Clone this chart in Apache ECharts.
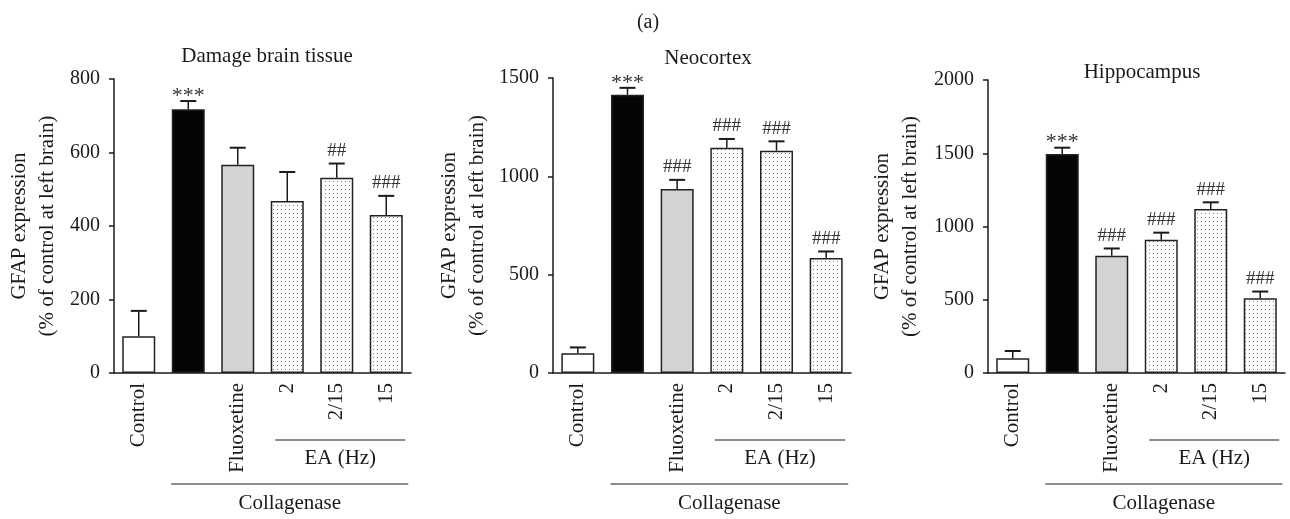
<!DOCTYPE html>
<html>
<head>
<meta charset="utf-8">
<script src="https://cdn.jsdelivr.net/npm/echarts@6/dist/echarts.min.js"></script>
<style>
  html, body { margin: 0; padding: 0; background: #fff; }
  #chart { width: 1290px; height: 519px; }
</style>
</head>
<body>
<div id="chart"></div>
<script>
// categories (the black collagenase bar has no label of its own)
const categories = ['Control', '', 'Fluoxetine', '2', '2/15', '15']

// panel titles and axis ranges
const panelTitles = ['Damage brain tissue', 'Neocortex', 'Hippocampus']
const yMax = [800, 1500, 2000]
const yStep = [200, 500, 500]

// means and error-bar tops
const damageMean = [100, 718, 567, 468, 531, 430]
const damageErr = [169, 740, 613, 547, 570, 482]
const damageMarks = ['', '***', '', '', '##', '###']

const neoMean = [100, 1415, 935, 1145, 1130, 585]
const neoErr = [130, 1450, 982, 1190, 1178, 618]
const neoMarks = ['', '***', '###', '###', '###', '###']

const hippoMean = [100, 1495, 800, 910, 1120, 510]
const hippoErr = [150, 1538, 850, 958, 1165, 556]
const hippoMarks = ['', '***', '###', '###', '###', '###']

const means = [damageMean, neoMean, hippoMean]
const errs = [damageErr, neoErr, hippoErr]
const marks = [damageMarks, neoMarks, hippoMarks]

const FONT = '"Liberation Serif", "DejaVu Serif", serif'
const INK = '#1a1a1a'

// dotted fill for the EA bars
function dotPattern() {
  const c = document.createElement('canvas')
  c.width = 4
  c.height = 4
  const ctx = c.getContext('2d')
  ctx.fillStyle = '#fff'
  ctx.fillRect(0, 0, 4, 4)
  ctx.fillStyle = '#777'
  ctx.fillRect(1, 1, 1, 1)
  return c
}
const dots = { image: dotPattern(), repeat: 'repeat' }
const barFills = ['#ffffff', '#050505', '#d3d3d3', dots, dots, dots]

const grids = [
  { left: 114, right: 879, top: 79, bottom: 146 },
  { left: 553, right: 439, top: 78, bottom: 146 },
  { left: 988, right: 5, top: 80, bottom: 146 }
]
const nameGaps = [53, 62, 64]

const chart = echarts.init(document.getElementById('chart'))

const xAxis = grids.map((g, i) => ({
  type: 'category',
  gridIndex: i,
  data: categories,
  axisLine: { lineStyle: { color: INK, width: 1.5 } },
  axisTick: { show: false },
  axisLabel: { rotate: 90, color: INK, fontFamily: FONT, fontSize: 21, margin: 10 }
}))

const yAxis = grids.map((g, i) => ({
  type: 'value',
  gridIndex: i,
  min: 0,
  max: yMax[i],
  interval: yStep[i],
  name: 'GFAP expression\n(% of control at left brain)',
  nameLocation: 'middle',
  nameGap: nameGaps[i],
  nameTextStyle: { color: INK, fontFamily: FONT, fontSize: 21, lineHeight: 28 },
  splitLine: { show: false },
  axisLine: { show: true, lineStyle: { color: INK, width: 1.5 } },
  axisTick: { show: true, length: 5, lineStyle: { color: INK, width: 1.5 } },
  axisLabel: { color: INK, fontFamily: FONT, fontSize: 20, margin: 14, formatter: v => String(v) }
}))

const series = []
means.forEach((m, i) => {
  series.push({
    type: 'bar',
    xAxisIndex: i,
    yAxisIndex: i,
    barWidth: 33,
    data: m.map((v, k) => ({
      value: v,
      itemStyle: { color: barFills[k], borderColor: '#222', borderWidth: 1.5 }
    }))
  })
  series.push({
    type: 'custom',
    xAxisIndex: i,
    yAxisIndex: i,
    z: 5,
    data: m.map((v, k) => [k, v, errs[i][k]]),
    renderItem: (params, api) => {
      const k = api.value(0)
      const base = api.coord([k, api.value(1)])
      const top = api.coord([k, api.value(2)])
      const label = marks[i][params.dataIndex]
      const star = label[0] === '*'
      const children = [
        { type: 'line', shape: { x1: base[0], y1: base[1], x2: top[0], y2: top[1] },
          style: { stroke: INK, lineWidth: 1.5 } },
        { type: 'line', shape: { x1: top[0] - 8, y1: top[1], x2: top[0] + 8, y2: top[1] },
          style: { stroke: INK, lineWidth: 2 } }
      ]
      if (label) {
        children.push({
          type: 'text',
          style: {
            text: label, x: top[0], y: star ? top[1] + 6 : top[1] - 3,
            align: 'center', verticalAlign: 'bottom',
            fill: '#333', fontFamily: FONT, fontSize: star ? 22 : 19
          }
        })
      }
      return { type: 'group', children }
    }
  })
})

chart.setOption({
  animation: false,
  backgroundColor: '#fff',
  title: [
    { text: '(a)', left: 643, top: 8, textAlign: 'center',
      textStyle: { color: INK, fontFamily: FONT, fontSize: 20, fontWeight: 'normal' } },
    ...panelTitles.map((t, i) => ({
      text: t,
      left: [262, 703, 1137][i],
      top: [41, 43, 57][i],
      textAlign: 'center',
      textStyle: { color: INK, fontFamily: FONT, fontSize: 21, fontWeight: 'normal' }
    }))
  ],
  grid: grids,
  xAxis,
  yAxis,
  series
})

// group brackets under the category labels, placed from the axis scales
const graphics = []
grids.forEach((g, i) => {
  const px = k => chart.convertToPixel({ xAxisIndex: i }, k)
  const eaL = px(3) - 12, eaR = px(5) + 19
  const colL = px(1) - 17, colR = px(5) + 22
  graphics.push(
    { type: 'line', shape: { x1: eaL, y1: 440, x2: eaR, y2: 440 }, style: { stroke: INK, lineWidth: 1.2 } },
    { type: 'text', style: { text: 'EA (Hz)', x: (eaL + eaR) / 2, y: 458, align: 'center', verticalAlign: 'middle',
        fill: INK, fontFamily: FONT, fontSize: 21 } },
    { type: 'line', shape: { x1: colL, y1: 484, x2: colR, y2: 484 }, style: { stroke: INK, lineWidth: 1.2 } },
    { type: 'text', style: { text: 'Collagenase', x: (colL + colR) / 2, y: 503, align: 'center', verticalAlign: 'middle',
        fill: INK, fontFamily: FONT, fontSize: 21 } }
  )
})
chart.setOption({ graphic: graphics })
</script>
</body>
</html>
